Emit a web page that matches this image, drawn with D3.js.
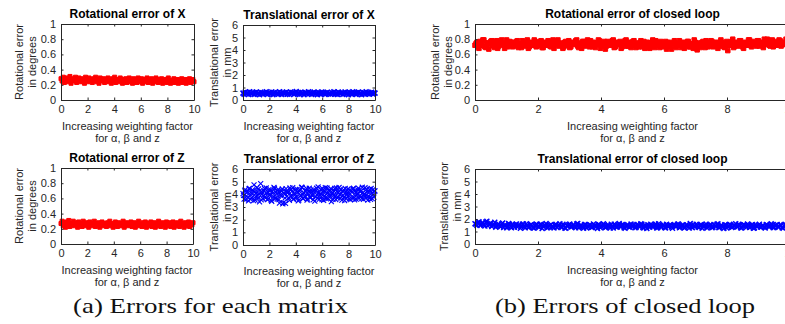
<!DOCTYPE html>
<html lang="en">
<head>
<meta charset="utf-8">
<title>Errors vs weighting factor</title>
<script src="https://cdn.jsdelivr.net/npm/d3@7"></script>
<style>
  body { margin: 0; background: #fff; }
  svg { display: block; }
  text { font-family: 'Liberation Sans', Arial, sans-serif; fill: #262626; }
  .caption { font-family: 'Liberation Serif', 'Times New Roman', serif; fill: #111; }
</style>
</head>
<body>
<div id="chart"></div>
<script>

/* Data */
/* ==== */

var xTicks = [0, 2, 4, 6, 8, 10];
var yTicksRot = [0, 0.2, 0.4, 0.6, 0.8, 1];
var yTicksTrans = [0, 1, 2, 3, 4, 5, 6];

// rotational error of X (degrees)
var rotX = [
  0.28,0.25,0.30,0.23,0.27,0.29,0.24,0.26,0.31,0.22,0.28,0.25,0.27,0.30,0.23,0.26,0.29,0.24,0.28,0.25,
  0.27,0.22,0.30,0.26,0.24,0.29,0.25,0.27,0.23,0.28,0.26,0.30,0.24,0.27,0.22,0.29,0.25,0.26,0.28,0.23,
  0.27,0.25,0.29,0.24,0.26,0.22,0.28,0.25,0.30,0.23,0.26,0.27,0.24,0.29,0.25,0.22,0.27,0.26,0.28,0.23,
  0.25,0.29,0.24,0.26,0.22,0.28,0.25,0.27,0.23,0.29,0.24,0.26,0.28,0.22,0.25,0.27,0.24,0.29,0.23,0.26,
  0.25,0.28,0.22,0.26,0.24,0.29,0.25,0.23,0.27,0.25,0.28,0.22,0.26,0.24,0.27,0.23,0.29,0.25,0.22,0.26,
  0.24,0.28,0.23,0.25,0.27,0.22,0.26,0.24,0.28,0.23,0.25,0.27,0.22,0.26,0.24,0.28,0.23,0.25,0.27,0.24
];

// translational error of X (mm)
var transX = [
  0.55,0.47,0.63,0.50,0.59,0.44,0.66,0.53,0.48,0.61,0.45,0.57,0.64,0.49,0.58,0.43,0.62,0.54,0.46,0.60,
  0.51,0.65,0.45,0.56,0.60,0.48,0.64,0.43,0.55,0.62,0.50,0.58,0.46,0.66,0.53,0.44,0.61,0.49,0.56,0.63,
  0.47,0.58,0.44,0.64,0.52,0.60,0.46,0.55,0.67,0.49,0.59,0.45,0.62,0.51,0.57,0.43,0.61,0.54,0.48,0.65,
  0.50,0.60,0.45,0.56,0.63,0.48,0.58,0.43,0.61,0.53,0.47,0.64,0.51,0.59,0.44,0.57,0.62,0.49,0.55,0.46,
  0.60,0.52,0.66,0.47,0.58,0.44,0.63,0.54,0.50,0.60,0.45,0.56,0.64,0.48,0.59,0.43,0.62,0.53,0.46,0.65,
  0.51,0.59,0.45,0.57,0.63,0.48,0.58,0.43,0.61,0.54,0.47,0.65,0.50,0.60,0.46,0.55,0.62,0.49,0.58,0.55
];

// rotational error of Z (degrees)
var rotZ = [
  0.27,0.30,0.24,0.28,0.22,0.29,0.26,0.31,0.23,0.27,0.25,0.30,0.24,0.28,0.26,0.22,0.29,0.25,0.27,0.23,
  0.30,0.26,0.24,0.28,0.25,0.22,0.29,0.27,0.24,0.26,0.30,0.23,0.27,0.25,0.28,0.22,0.26,0.29,0.24,0.27,
  0.25,0.23,0.28,0.26,0.30,0.24,0.27,0.22,0.25,0.29,0.26,0.23,0.28,0.25,0.27,0.24,0.30,0.22,0.26,0.28,
  0.24,0.27,0.25,0.29,0.23,0.26,0.28,0.22,0.25,0.27,0.30,0.24,0.26,0.23,0.28,0.25,0.29,0.22,0.27,0.24,
  0.26,0.29,0.23,0.25,0.28,0.22,0.27,0.24,0.30,0.26,0.23,0.28,0.25,0.27,0.22,0.29,0.24,0.26,0.28,0.23,
  0.25,0.29,0.22,0.27,0.24,0.28,0.26,0.23,0.30,0.25,0.27,0.22,0.28,0.24,0.26,0.29,0.23,0.27,0.25,0.28
];

// translational error of Z (mm): even samples (A) and odd samples (B)
var transZA = [
  4.05,3.62,4.38,3.85,4.21,3.48,4.47,3.95,3.70,4.30,4.75,3.55,4.12,3.88,4.42,3.40,4.85,4.00,3.66,4.25,
  3.80,4.50,3.58,4.15,3.92,4.36,3.45,4.08,4.55,3.74,4.20,3.62,4.40,3.30,3.98,4.28,3.25,4.10,3.70,4.45,
  3.86,4.18,3.52,4.34,3.95,4.52,3.64,4.06,3.82,4.40,3.48,4.24,3.90,4.56,3.68,4.12,3.78,4.32,3.55,4.02,
  4.48,3.72,4.16,3.88,4.38,3.46,4.26,3.94,4.58,3.60,4.08,3.84,4.44,3.52,4.20,3.76,4.50,3.66,4.02,4.30,
  3.42,4.14,3.90,4.46,3.58,4.22,3.80,4.54,3.70,4.10,3.86,4.36,3.50,4.18,3.96,4.42,3.62,4.04,4.28,3.74,
  4.48,3.56,4.12,3.92,4.34,3.68,4.22,3.82,4.56,3.60,4.06,3.88,4.40,3.54,4.16,3.78,4.46,3.66,4.00,4.25
];
var transZB = [
  3.92,4.28,3.58,4.14,3.76,4.44,3.64,4.08,4.36,3.50,4.20,3.84,4.52,3.68,4.02,4.32,3.56,4.18,3.90,4.46,
  3.72,4.10,3.60,4.38,3.96,3.52,4.24,3.80,4.48,3.66,4.04,4.30,3.58,4.16,3.88,4.42,3.35,4.00,3.28,4.22,
  4.12,3.70,4.50,3.84,4.26,3.60,4.06,4.40,3.74,4.18,3.54,4.34,3.92,4.54,3.66,4.10,3.86,4.46,3.62,4.24,
  3.78,4.36,3.98,3.56,4.28,3.82,4.48,3.70,4.14,3.94,4.40,3.58,4.20,3.88,4.52,3.64,4.08,4.32,3.76,4.44,
  4.02,3.60,4.26,3.84,4.50,3.72,4.16,3.96,4.38,3.54,4.22,3.80,4.46,3.68,4.12,3.90,4.34,3.58,4.18,4.42,
  3.74,4.30,3.62,4.06,4.48,3.86,4.24,3.66,4.14,3.94,4.52,3.70,4.20,3.82,4.40,3.60,4.10,4.36,3.78,4.28
];

// rotational error of closed loop (degrees): even (A) and odd (B) samples
var rotLoopA = [
  0.72,0.76,0.68,0.74,0.79,0.70,0.75,0.67,0.77,0.73,0.69,0.78,0.71,0.75,0.74,0.68,0.79,0.72,0.76,0.70,
  0.74,0.77,0.69,0.73,0.78,0.71,0.75,0.68,0.76,0.72,0.79,0.70,0.74,0.77,0.69,0.75,0.73,0.78,0.71,0.76,
  0.68,0.74,0.79,0.72,0.75,0.70,0.77,0.73,0.69,0.76,0.74,0.78,0.71,0.75,0.68,0.77,0.72,0.79,0.70,0.74,
  0.76,0.69,0.73,0.78,0.71,0.75,0.67,0.77,0.72,0.74,0.79,0.70,0.76,0.73,0.68,0.75,0.78,0.71,0.74,0.69,
  0.77,0.72,0.75,0.70,0.78,0.73,0.68,0.76,0.71,0.74,0.79,0.69,0.75,0.72,0.77,0.70,0.73,0.67,0.76,0.71,
  0.74,0.78,0.69,0.75,0.72,0.76,0.68,0.73,0.77,0.70,0.74,0.79,0.71,0.75,0.69,0.76,0.72,0.78,0.70,0.74,
  0.77,0.71,0.75,0.68,0.73,0.76,0.70,0.74,0.65,0.72,0.77,0.69,0.75,0.71,0.78,0.73,0.68,0.76,0.72,0.79,
  0.70,0.75,0.73,0.78,0.71,0.76,0.69,0.74,0.80,0.72,0.77,0.70,0.75,0.73,0.79,0.71,0.76,0.74,0.78,0.73
];
var rotLoopB = [
  0.74,0.70,0.77,0.72,0.79,0.69,0.75,0.73,0.78,0.71,0.76,0.68,0.74,0.79,0.72,0.75,0.70,0.77,0.73,0.76,
  0.71,0.78,0.74,0.69,0.76,0.72,0.79,0.70,0.75,0.73,0.77,0.71,0.74,0.78,0.69,0.76,0.72,0.75,0.70,0.79,
  0.73,0.77,0.71,0.74,0.68,0.76,0.72,0.78,0.70,0.75,0.73,0.79,0.69,0.74,0.77,0.71,0.76,0.72,0.78,0.70,
  0.75,0.73,0.79,0.68,0.74,0.77,0.71,0.76,0.72,0.78,0.69,0.75,0.73,0.77,0.70,0.74,0.79,0.71,0.76,0.72,
  0.78,0.69,0.73,0.75,0.70,0.77,0.72,0.74,0.68,0.76,0.71,0.78,0.73,0.69,0.75,0.72,0.77,0.70,0.74,0.67,
  0.76,0.71,0.73,0.78,0.69,0.75,0.72,0.77,0.70,0.74,0.68,0.76,0.66,0.73,0.71,0.77,0.69,0.75,0.72,0.78,
  0.70,0.74,0.76,0.71,0.79,0.73,0.69,0.77,0.72,0.75,0.80,0.71,0.76,0.74,0.78,0.70,0.75,0.73,0.79,0.72,
  0.77,0.74,0.71,0.78,0.75,0.72,0.80,0.73,0.76,0.71,0.79,0.74,0.77,0.72,0.78,0.75,0.73,0.80,0.76,0.74
];

// translational error of closed loop (mm): even (A) and odd (B) samples
var transLoopA = [
  1.62,1.48,1.78,1.55,1.70,1.44,1.82,1.58,1.66,1.50,1.74,1.46,1.60,1.38,1.68,1.52,1.30,1.64,1.42,1.56,
  1.34,1.60,1.47,1.26,1.58,1.40,1.62,1.32,1.52,1.45,1.28,1.60,1.38,1.55,1.24,1.48,1.63,1.35,1.50,1.42,
  1.29,1.57,1.44,1.61,1.33,1.50,1.26,1.46,1.59,1.37,1.54,1.30,1.64,1.41,1.48,1.27,1.56,1.39,1.52,1.32,
  1.60,1.45,1.25,1.53,1.38,1.62,1.31,1.49,1.43,1.58,1.28,1.51,1.36,1.63,1.40,1.55,1.27,1.47,1.34,1.59,
  1.42,1.30,1.56,1.44,1.61,1.33,1.50,1.25,1.46,1.58,1.37,1.53,1.29,1.62,1.41,1.48,1.32,1.57,1.39,1.51,
  1.26,1.55,1.43,1.60,1.35,1.49,1.28,1.54,1.40,1.63,1.31,1.46,1.58,1.36,1.52,1.27,1.45,1.59,1.38,1.50,
  1.30,1.56,1.42,1.61,1.34,1.48,1.25,1.53,1.39,1.57,1.32,1.47,1.62,1.37,1.51,1.28,1.55,1.43,1.60,1.33,
  1.49,1.26,1.54,1.41,1.58,1.35,1.46,1.29,1.52,1.40,1.61,1.31,1.48,1.56,1.36,1.50,1.27,1.57,1.44,1.38
];
var transLoopB = [
  1.58,1.72,1.50,1.66,1.54,1.76,1.46,1.62,1.40,1.58,1.35,1.54,1.44,1.60,1.32,1.50,1.42,1.57,1.30,1.47,
  1.55,1.36,1.52,1.44,1.60,1.30,1.48,1.38,1.56,1.28,1.46,1.53,1.34,1.58,1.41,1.50,1.29,1.45,1.56,1.37,
  1.52,1.32,1.48,1.40,1.58,1.28,1.46,1.54,1.36,1.50,1.42,1.60,1.31,1.47,1.38,1.55,1.29,1.44,1.52,1.35,
  1.49,1.40,1.57,1.30,1.46,1.53,1.37,1.50,1.28,1.44,1.58,1.34,1.48,1.41,1.55,1.30,1.46,1.52,1.36,1.43,
  1.56,1.32,1.49,1.39,1.58,1.28,1.45,1.53,1.35,1.47,1.42,1.59,1.31,1.46,1.37,1.54,1.29,1.44,1.51,1.36,
  1.48,1.40,1.57,1.30,1.45,1.52,1.34,1.50,1.28,1.43,1.56,1.38,1.47,1.32,1.55,1.41,1.49,1.29,1.46,1.53,
  1.35,1.44,1.58,1.31,1.48,1.39,1.54,1.28,1.45,1.51,1.36,1.47,1.42,1.57,1.30,1.46,1.52,1.34,1.49,1.38,
  1.55,1.29,1.44,1.50,1.37,1.47,1.32,1.56,1.40,1.45,1.53,1.33,1.48,1.39,1.54,1.30,1.46,1.51,1.36,1.43
];


/* Set up svg */
/* ========== */

var width = 785,
    height = 324,
    axisColor = '#262626';

var svg = d3.select('#chart').append('svg')
  .attr('width', width)
  .attr('height', height);

// put even and odd samples back in order
function interleave(a, b) {
  var out = [];
  a.forEach(function(d, i) {
    out.push(d);
    if (i < b.length) out.push(b[i]);
  });
  return out;
}


/* Draw one panel */
/* ============== */

function drawPanel(p) {

  var x = d3.scaleLinear().domain([0, 10]).range([p.left, p.right]);
  var y = d3.scaleLinear().domain([0, p.yTicks[p.yTicks.length - 1]]).range([p.bottom, p.top]);

  var g = svg.append('g');

  // markers
  var n = p.values.length;
  var pts = g.append('g').selectAll('path')
    .data(p.values)
    .join('path')
    .attr('transform', function(d, i) {
      return 'translate(' + x(i * 10 / (n - 1)) + ',' + y(d) + ')';
    })
    .attr('stroke', p.color);

  var s = p.size / 2;
  if (p.marker === 'square') {
    pts.attr('d', 'M' + (-s) + ',' + (-s) + 'H' + s + 'V' + s + 'H' + (-s) + 'Z')
      .attr('fill', p.color)
      .attr('stroke-width', 1);
  } else {
    pts.attr('d', 'M' + (-s) + ',' + (-s) + 'L' + s + ',' + s + 'M' + (-s) + ',' + s + 'L' + s + ',' + (-s))
      .attr('fill', 'none')
      .attr('stroke-width', p.stroke);
  }

  // axes, ticks pointing inward on all four sides
  var bottom = g.append('g')
    .attr('transform', 'translate(0,' + p.bottom + ')')
    .call(d3.axisBottom(x).tickValues(xTicks).tickSize(-2.5).tickSizeOuter(0).tickPadding(5).tickFormat(d3.format('')));
  var top = g.append('g')
    .attr('transform', 'translate(0,' + p.top + ')')
    .call(d3.axisTop(x).tickValues(xTicks).tickSize(-2.5).tickSizeOuter(0).tickFormat(''));
  var left = g.append('g')
    .attr('transform', 'translate(' + p.left + ',0)')
    .call(d3.axisLeft(y).tickValues(p.yTicks).tickSize(-2.5).tickSizeOuter(0).tickPadding(5).tickFormat(d3.format('')));
  var right = g.append('g')
    .attr('transform', 'translate(' + p.right + ',0)')
    .call(d3.axisRight(y).tickValues(p.yTicks).tickSize(-2.5).tickSizeOuter(0).tickFormat(''));

  [bottom, top, left, right].forEach(function(a) {
    a.select('.domain').attr('stroke', axisColor);
    a.selectAll('.tick line').attr('stroke', axisColor);
    a.selectAll('.tick text')
      .attr('fill', axisColor)
      .style('font-family', "'Liberation Sans', Arial, sans-serif")
      .style('font-size', '11px');
  });

  // title
  g.append('text')
    .attr('x', (p.left + p.right) / 2)
    .attr('y', p.top - 6)
    .attr('text-anchor', 'middle')
    .style('font-size', '12px')
    .style('font-weight', 'bold')
    .style('fill', '#000')
    .text(p.title);

  // x label
  var cx = (p.left + p.right) / 2;
  g.append('text')
    .attr('x', cx).attr('y', p.bottom + 30)
    .attr('text-anchor', 'middle')
    .style('font-size', '11px')
    .text('Increasing weighting factor');
  g.append('text')
    .attr('x', cx).attr('y', p.bottom + 42)
    .attr('text-anchor', 'middle')
    .style('font-size', '11px')
    .text('for  \u03b1, \u03b2 and z');

  // y label (two lines)
  var cy = (p.top + p.bottom) / 2;
  p.ylabel.forEach(function(line, i) {
    var lx = p.left - p.ylabelGap - (p.ylabel.length - 1 - i) * 13;
    g.append('text')
      .attr('transform', 'translate(' + (lx + 4) + ',' + cy + ') rotate(-90)')
      .attr('text-anchor', 'middle')
      .style('font-size', '11px')
      .text(line);
  });

} // drawPanel()


var panels = [
  { title: 'Rotational error of X', values: rotX, color: '#ff0000', marker: 'square', size: 4,
    left: 61, right: 194, top: 24, bottom: 100, yTicks: yTicksRot,
    ylabel: ['Rotational error', 'in degrees'], ylabelGap: 29 },
  { title: 'Translational error of X', values: transX, color: '#0000ff', marker: 'x', size: 5, stroke: 1.6,
    left: 243, right: 375, top: 25, bottom: 100, yTicks: yTicksTrans,
    ylabel: ['Translational error', 'in mm'], ylabelGap: 16 },
  { title: 'Rotational error of Z', values: rotZ, color: '#ff0000', marker: 'square', size: 4,
    left: 61, right: 193, top: 168, bottom: 244, yTicks: yTicksRot,
    ylabel: ['Rotational error', 'in degrees'], ylabelGap: 29 },
  { title: 'Translational error of Z', values: interleave(transZA, transZB), color: '#0000ff', marker: 'x', size: 5, stroke: 1.1,
    left: 243, right: 375, top: 169, bottom: 245, yTicks: yTicksTrans,
    ylabel: ['Translational error', 'in mm'], ylabelGap: 16 },
  { title: 'Rotational error of closed loop', values: interleave(rotLoopA, rotLoopB), color: '#ff0000', marker: 'square', size: 4.5,
    left: 475, right: 790, top: 24, bottom: 100, yTicks: yTicksRot,
    ylabel: ['Rotational error', 'in degrees'], ylabelGap: 27 },
  { title: 'Translational error of closed loop', values: interleave(transLoopA, transLoopB), color: '#0000ff', marker: 'x', size: 5, stroke: 1.5,
    left: 475, right: 790, top: 169, bottom: 244, yTicks: yTicksTrans,
    ylabel: ['Translational error', 'in mm'], ylabelGap: 18 }
];

panels.forEach(drawPanel);


/* Sub-captions */
/* ============ */

svg.append('text')
  .attr('class', 'caption')
  .attr('x', 73).attr('y', 313)
  .attr('textLength', 275).attr('lengthAdjust', 'spacingAndGlyphs')
  .style('font-size', '21px')
  .text('(a) Errors for each matrix');

svg.append('text')
  .attr('class', 'caption')
  .attr('x', 495).attr('y', 313)
  .attr('textLength', 260).attr('lengthAdjust', 'spacingAndGlyphs')
  .style('font-size', '21px')
  .text('(b) Errors of closed loop');

</script>
</body>
</html>
